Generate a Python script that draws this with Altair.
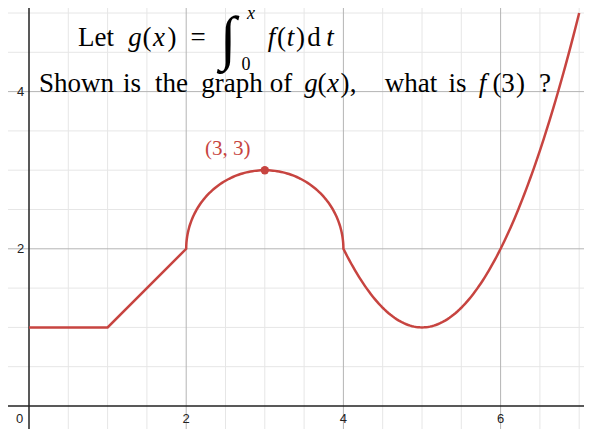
import numpy as np
import pandas as pd
import altair as alt

# ---- scale of the reference picture (page pixels) ----
PX = 78.6          # pixels per unit
X0_PAGE = 29.0     # page x of x=0
Y0_PAGE = 406.0    # page y of y=0
LEFT, TOP = 8, 8   # where the plot area lands on the page
W, H = 592 - 16, 437 - 16

def to_x(px):
    return (px - X0_PAGE) / PX

def to_y(py):
    return (Y0_PAGE - py) / PX

X_DOMAIN = [to_x(LEFT), to_x(LEFT + W)]
Y_DOMAIN = [to_y(TOP + H), to_y(TOP)]

# ---- data ----
# piece 1: polyline
poly_x = [0, 1, 2]
poly_y = [1, 1, 2]
# piece 2: upper semicircle
circ_cx, circ_cy, circ_r = 3, 2, 1
# piece 3: parabola y = (x - vx)^2 + vy on [4, 7]
par_vx, par_vy, par_x0, par_x1 = 5, 1, 4, 7

pt_x = [3]
pt_y = [3]
pt_label = ["(3, 3)"]

major_x = [2, 4, 6]
major_y = [2, 4]
minor_x = [0.5, 1, 1.5, 2.5, 3, 3.5, 4.5, 5, 5.5, 6.5, 7]
minor_y = [0.5, 1, 1.5, 2.5, 3, 3.5, 4.5, 5]

x_tick_vals = [2, 4, 6]
x_tick_text = ["2", "4", "6"]
y_tick_vals = [2, 4]
y_tick_text = ["2", "4"]

# ---- curve ----
theta = np.linspace(np.pi, 0, 121)
cx = circ_cx + circ_r * np.cos(theta)
cy = circ_cy + circ_r * np.sin(theta)
px_ = np.linspace(par_x0, par_x1, 121)
py_ = (px_ - par_vx) ** 2 + par_vy
curve = pd.DataFrame({
    "x": np.concatenate([poly_x, cx, px_]),
    "y": np.concatenate([poly_y, cy, py_]),
})
curve["i"] = np.arange(len(curve))

RED = "#c74440"
xs = alt.Scale(domain=X_DOMAIN, nice=False, zero=False)
ys = alt.Scale(domain=Y_DOMAIN, nice=False, zero=False)

def X(f="x"):
    return alt.X(f, type="quantitative", scale=xs, axis=None)

def Y(f="y"):
    return alt.Y(f, type="quantitative", scale=ys, axis=None)

minor_v = alt.Chart(pd.DataFrame({"x": minor_x})).mark_rule(color="#e6e6e6", strokeWidth=1).encode(x=X())
minor_h = alt.Chart(pd.DataFrame({"y": minor_y})).mark_rule(color="#e6e6e6", strokeWidth=1).encode(y=Y())
major_v = alt.Chart(pd.DataFrame({"x": major_x})).mark_rule(color="#b4b4b4", strokeWidth=1).encode(x=X())
major_h = alt.Chart(pd.DataFrame({"y": major_y})).mark_rule(color="#b4b4b4", strokeWidth=1).encode(y=Y())
axis_v = alt.Chart(pd.DataFrame({"x": [0]})).mark_rule(color="#222222", strokeWidth=1.5).encode(x=X())
axis_h = alt.Chart(pd.DataFrame({"y": [0]})).mark_rule(color="#222222", strokeWidth=1.5).encode(y=Y())

line = alt.Chart(curve).mark_line(color=RED, strokeWidth=2.5, clip=True).encode(
    x=X(), y=Y(), order="i:Q")

pts = pd.DataFrame({"x": pt_x, "y": pt_y, "label": pt_label})
point = alt.Chart(pts).mark_circle(color=RED, opacity=1, size=70).encode(x=X(), y=Y())
point_lbl = alt.Chart(pts).mark_text(
    color=RED, font="Liberation Serif", fontSize=21, align="center", baseline="middle",
    dx=-37, dy=-21).encode(x=X(), y=Y(), text="label")

# tick labels
ticks = pd.DataFrame({
    "x": [to_x(19.7)] + x_tick_vals + [to_x(20.5)] * len(y_tick_vals),
    "y": [to_y(419)] + [to_y(419)] * len(x_tick_vals) + y_tick_vals,
    "t": ["0"] + x_tick_text + y_tick_text,
})
tick_lbl = alt.Chart(ticks).mark_text(
    font="Liberation Sans", fontSize=13, color="#222222", align="center", baseline="middle"
).encode(x=X(), y=Y(), text="t")

# title text pieces: (text, page x centre, page baseline y, font size, italic)
BIG = 27
SMALL = 18
pieces = [
    ("Let", 96, 46, BIG, False),
    ("g", 135, 46, BIG, True),
    ("(", 147, 46, BIG, False),
    ("x", 159, 46, BIG, True),
    (")", 172, 46, BIG, False),
    ("=", 198, 46, BIG, False),
    ("∫", 228, 58, 60, True),
    ("x", 251, 19, SMALL, True),
    ("0", 246, 70, SMALL, False),
    ("f", 271.5, 46, BIG, True),
    ("(", 281.5, 46, BIG, False),
    ("t", 290.5, 46, BIG, True),
    (")", 300.5, 46, BIG, False),
    ("d", 314, 46, BIG, False),
    ("t", 330, 46, BIG, True),
    ("Shown", 76.5, 92, BIG, False),
    ("is", 132, 92, BIG, False),
    ("the", 171.5, 92, BIG, False),
    ("graph", 232, 92, BIG, False),
    ("of", 281, 92, BIG, False),
    ("g", 311, 92, BIG, True),
    ("(", 322, 92, BIG, False),
    ("x", 333, 92, BIG, True),
    (")", 345, 92, BIG, False),
    (",", 353, 92, BIG, False),
    ("what", 411, 92, BIG, False),
    ("is", 457.5, 92, BIG, False),
    ("f", 482.5, 92, BIG, True),
    ("(", 497, 92, BIG, False),
    ("3", 508, 92, BIG, False),
    (")", 520.5, 92, BIG, False),
    ("?", 545, 92, BIG, False),
]
tp = pd.DataFrame({
    "t": [p[0] for p in pieces],
    "x": [to_x(p[1]) for p in pieces],
    "y": [to_y(p[2]) for p in pieces],
    "s": [p[3] for p in pieces],
    "it": [p[4] for p in pieces],
})

def text_layer(df, style):
    return alt.Chart(df).mark_text(
        font="Liberation Serif", fontStyle=style, color="#000000",
        align="center", baseline="alphabetic"
    ).encode(x=X(), y=Y(), text="t", size=alt.Size("s:Q", scale=None, legend=None))

roman = text_layer(tp[~tp["it"]], "normal")
italic = text_layer(tp[tp["it"]], "italic")

chart = alt.layer(
    minor_v, minor_h, major_v, major_h, axis_v, axis_h,
    line, point, point_lbl, tick_lbl, roman, italic
).properties(
    width=W, height=H, padding=0, background="white",
    autosize=alt.AutoSizeParams(type="none"),
).configure_view(stroke=None)

chart.save("out.html", embed_options={"renderer": "svg", "actions": False})
